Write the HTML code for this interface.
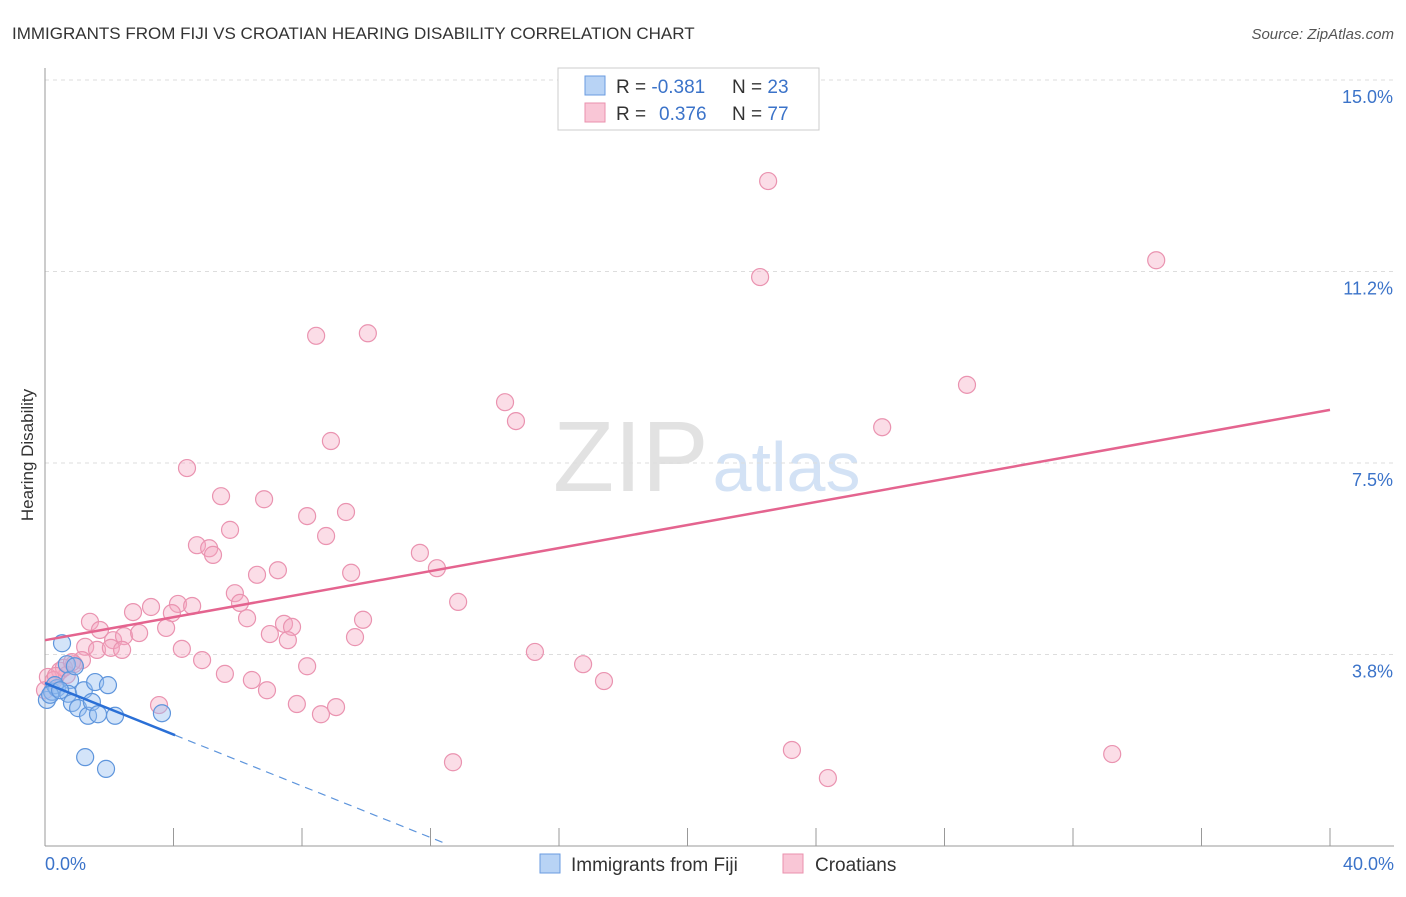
<!DOCTYPE html>
<html><head><meta charset="utf-8"><style>
body{margin:0;background:#fff;font-family:"Liberation Sans",sans-serif}
svg text{font-family:"Liberation Sans",sans-serif}
</style></head><body>
<svg id="chart" width="1406" height="892" viewBox="0 0 1406 892">
<text x="12" y="39" font-size="17" fill="#333">IMMIGRANTS FROM FIJI VS CROATIAN HEARING DISABILITY CORRELATION CHART</text>
<text x="1394" y="39" font-size="15" fill="#555" text-anchor="end" font-style="italic">Source: ZipAtlas.com</text>
<text x="553" y="491" font-size="100" fill="#e2e2e2" font-family="Liberation Serif">ZIP<tspan fill="#d3e2f5" font-family="Liberation Sans" font-size="70" dx="4">atlas</tspan></text>
<g id="grid"></g>
<line x1="45" y1="68" x2="45" y2="846" stroke="#999"/>
<line x1="45" y1="846" x2="1394" y2="846" stroke="#999"/>
<text transform="translate(33,455) rotate(-90)" font-size="17" fill="#333" text-anchor="middle">Hearing Disability</text>
<text x="45" y="870" font-size="18" fill="#3b73c9">0.0%</text>
<text x="1394" y="870" font-size="18" fill="#3b73c9" text-anchor="end">40.0%</text>
<g id="marks"></g>
<g>
<rect x="558" y="68" width="261" height="62" fill="#fff" stroke="#ccc"/>
<rect x="585" y="76" width="20" height="19" fill="#b8d3f5" stroke="#6a9be0"/>
<rect x="585" y="103" width="20" height="19" fill="#f9c6d6" stroke="#ea90ad"/>
<text x="616" y="93" font-size="19" fill="#333">R = <tspan fill="#3b73c9">-0.381</tspan><tspan x="732">N = </tspan><tspan fill="#3b73c9">23</tspan></text>
<text x="616" y="120" font-size="19" fill="#333">R = <tspan fill="#3b73c9" x="659">0.376</tspan><tspan x="732">N = </tspan><tspan fill="#3b73c9">77</tspan></text>
</g>
<g>
<rect x="540" y="854" width="20" height="19" fill="#b8d3f5" stroke="#6a9be0"/>
<text x="571" y="871" font-size="19" fill="#333">Immigrants from Fiji</text>
<rect x="783" y="854" width="20" height="19" fill="#f9c6d6" stroke="#ea90ad"/>
<text x="815" y="871" font-size="19" fill="#333">Croatians</text>
</g>
</svg>
<script>
const yTicks=[3.75,7.5,11.25,15.0];
const yTickLabels=["3.8%","7.5%","11.2%","15.0%"];
const xTicks=[0,4,8,12,16,20,24,28,32,36,40];
const fijiX=[0.06,0.22,0.37,0.53,0.68,0.78,0.72,0.93,0.84,1.03,1.21,1.34,1.46,1.56,1.65,1.96,2.18,3.64,1.25,1.90,0.31,0.16,0.47];
const fijiY=[2.86,3.02,3.09,3.97,3.56,3.25,2.98,3.52,2.80,2.70,3.05,2.55,2.82,3.21,2.58,3.15,2.55,2.60,1.74,1.51,3.15,2.96,3.05];
const croX=[22.51,22.26,34.59,8.44,10.05,28.70,14.32,14.66,26.06,8.90,4.42,5.48,6.82,8.16,9.37,5.76,8.75,4.73,5.11,5.23,11.67,6.60,7.25,9.53,12.20,5.91,6.07,12.86,2.74,3.30,4.14,4.58,3.95,6.29,1.40,1.71,3.77,7.44,7.69,9.90,2.12,2.46,2.93,7.00,7.56,9.65,1.25,1.62,2.05,2.40,4.26,1.15,4.89,0.90,0.47,0.09,0.28,0.68,8.16,15.25,16.75,5.60,6.44,6.91,17.40,3.55,7.84,8.59,9.06,12.70,23.25,24.37,33.22,0.59,0.84,0.0,0.34];
const croY=[13.02,11.14,11.47,9.99,10.04,9.03,8.69,8.32,8.20,7.93,7.40,6.85,6.79,6.46,6.54,6.19,6.07,5.89,5.83,5.70,5.74,5.31,5.40,5.35,5.44,4.95,4.76,4.78,4.58,4.68,4.74,4.70,4.56,4.46,4.39,4.23,4.27,4.35,4.29,4.43,4.03,4.11,4.17,4.15,4.03,4.09,3.90,3.84,3.88,3.84,3.86,3.64,3.64,3.56,3.43,3.31,3.25,3.35,3.52,3.80,3.56,3.37,3.25,3.05,3.23,2.76,2.78,2.58,2.72,1.64,1.88,1.33,1.80,3.49,3.60,3.05,3.33];
const croTrend=[4.03,8.54]; // y at x=0 and x=40
const fijiTrend=[3.19,-0.252]; // intercept, slope
const NS="http://www.w3.org/2000/svg";
const sx=v=>45+v*(1285/40);
const sy=v=>846-v*51.07;
function mk(t,a,p){const e=document.createElementNS(NS,t);for(const k in a)e.setAttribute(k,a[k]);p.appendChild(e);return e;}
const grid=document.getElementById('grid'),marks=document.getElementById('marks');
yTicks.forEach((v,i)=>{
 const l=mk('line',{x1:45,x2:1394,y1:sy(v),y2:sy(v),stroke:'#ddd','stroke-dasharray':'4,4'},grid);
 
 
 const t=mk('text',{x:1393,y:sy(v)+23,'font-size':18,fill:'#3b73c9','text-anchor':'end'},grid);
 t.textContent=yTickLabels[i];
 
 
});
xTicks.forEach(v=>{
 if(v===0)return;
 const l=mk('line',{x1:sx(v),x2:sx(v),y1:828,y2:846,stroke:'#999'},grid);
 
 
});
croX.forEach((x,i)=>{
 const c=mk('circle',{cx:sx(x),cy:sy(croY[i]),r:8.5,fill:'rgba(244,165,192,0.38)',stroke:'#ea93b0','stroke-width':1.2},marks);
 
 
});
fijiX.forEach((x,i)=>{
 const c=mk('circle',{cx:sx(x),cy:sy(fijiY[i]),r:8.5,fill:'rgba(150,190,240,0.42)',stroke:'#5e95dc','stroke-width':1.2},marks);
 
 
});
const ct=mk('line',{x1:sx(0),y1:sy(croTrend[0]),x2:sx(40),y2:sy(croTrend[1]),stroke:'#e4648f','stroke-width':2.5},marks);


const fe=4.05, fd=12.4;
const ft=mk('line',{x1:sx(0),y1:sy(fijiTrend[0]),x2:sx(fe),y2:sy(fijiTrend[0]+fijiTrend[1]*fe),stroke:'#2a6fd6','stroke-width':2.5},marks);


const fdl=mk('line',{x1:sx(fe),y1:sy(fijiTrend[0]+fijiTrend[1]*fe),x2:sx(fd),y2:sy(fijiTrend[0]+fijiTrend[1]*fd),stroke:'#5e95dc','stroke-width':1.2,'stroke-dasharray':'8,6'},marks);


</script>
</body></html>
